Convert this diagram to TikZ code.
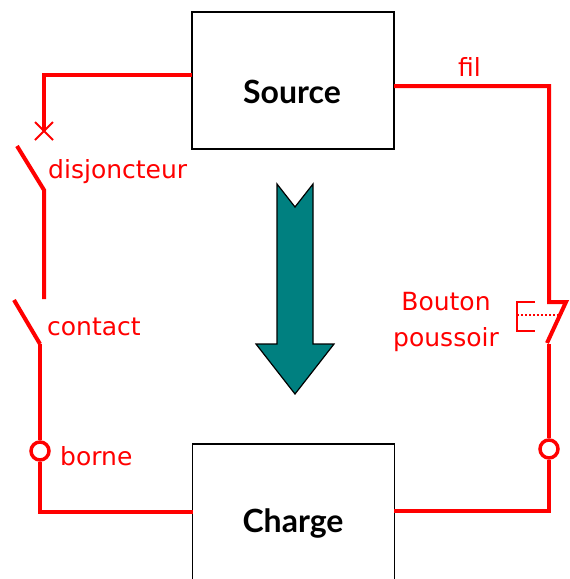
\documentclass[tikz,border=0pt]{standalone}
\usepackage{fontspec}
\setmainfont{DejaVu Sans}
\newfontfamily\titlefont{Lato}
\begin{document}
\begin{tikzpicture}[x=1pt,y=-1pt,
  wire/.style={draw=red, line width=4pt},
  thinwire/.style={draw=red, line width=2pt},
  box/.style={draw=black, line width=1.5pt, minimum width=202pt, inner sep=0pt},
  title/.style={font=\titlefont\fontsize{32}{35}\selectfont\bfseries, text=black},
  lbl/.style={font=\fontsize{25}{28}\selectfont, text=red, anchor=base west, inner sep=0pt},
  term/.style={circle, draw=red, line width=3.5pt, minimum size=18pt, inner sep=0pt, fill=white}]
\useasboundingbox (0,0) rectangle (570,579);
\clip (0,0) rectangle (570,579);
% boxes
\node[box, minimum height=137pt] (src) at (293,80.5) {};
\node[box, minimum height=150pt] (chg) at (293.5,519) {};
\node[title, anchor=base] (srct) at (292,103) {Source};
\node[title, anchor=base] (chgt) at (293,532) {Charge};
% left branch
\coordinate (sl) at (192,75);
\coordinate (c1) at (44,75);
\coordinate (x1) at (44,131);
\draw[wire] (sl) -- (c1) -- (x1);
\draw[thinwire] (35,122) -- (53,140) (35,140) -- (53,122);
\coordinate (d1) at (17,146);
\coordinate (d2) at (44,190);
\coordinate (d3) at (44,299);
\draw[wire] (d1) -- (d2) -- (d3);
\coordinate (k1) at (14,300);
\coordinate (k2) at (40,344);
\draw[wire] (k1) -- (k2);
\node[term] (bl) at (40,451) {};
\draw[wire] (k2) -- (bl.north);
\coordinate (c2) at (40,512);
\coordinate (cl) at (193,512);
\draw[wire] (bl.south) -- (c2) -- (cl);
% right branch
\coordinate (sr) at (394,86);
\coordinate (c3) at (549,86);
\coordinate (p1) at (549,302);
\coordinate (p2) at (566,302);
\coordinate (p3) at (547,343);
\draw[wire, line join=miter] (sr) -- (c3) -- (p1) -- (p2) -- (p3);
\draw[thinwire] (535,302) -- (517,302) -- (517,331) -- (535,331);
\draw[red, line width=2.2pt, dash pattern=on 2pt off 2pt] (517,315) -- (560,315);
\coordinate (p4) at (549,344);
\node[term] (br) at (549,449) {};
\draw[wire] (p4) -- (br.north);
\coordinate (c4) at (549,511);
\coordinate (cr) at (394,511);
\draw[wire] (br.south) -- (c4) -- (cr);
% arrow
\draw[fill={rgb,255:red,0;green,128;blue,128}, draw=black, line width=1.2pt, line join=miter]
  (277,184) -- (295,207) -- (313,184) -- (313,344) -- (334,344) -- (295,394) -- (256,344) -- (277,344) -- cycle;
% labels
\node[lbl] (fil) at (458,76) {fil};
\node[lbl] (dis) at (48,178) {disjoncteur};
\node[lbl] (con) at (47,335) {contact};
\node[lbl] (bor) at (60,465) {borne};
\node[lbl, anchor=base] (bou) at (446,310) {Bouton};
\node[lbl, anchor=base] (pou) at (446,346) {poussoir};
\end{tikzpicture}
\end{document}
